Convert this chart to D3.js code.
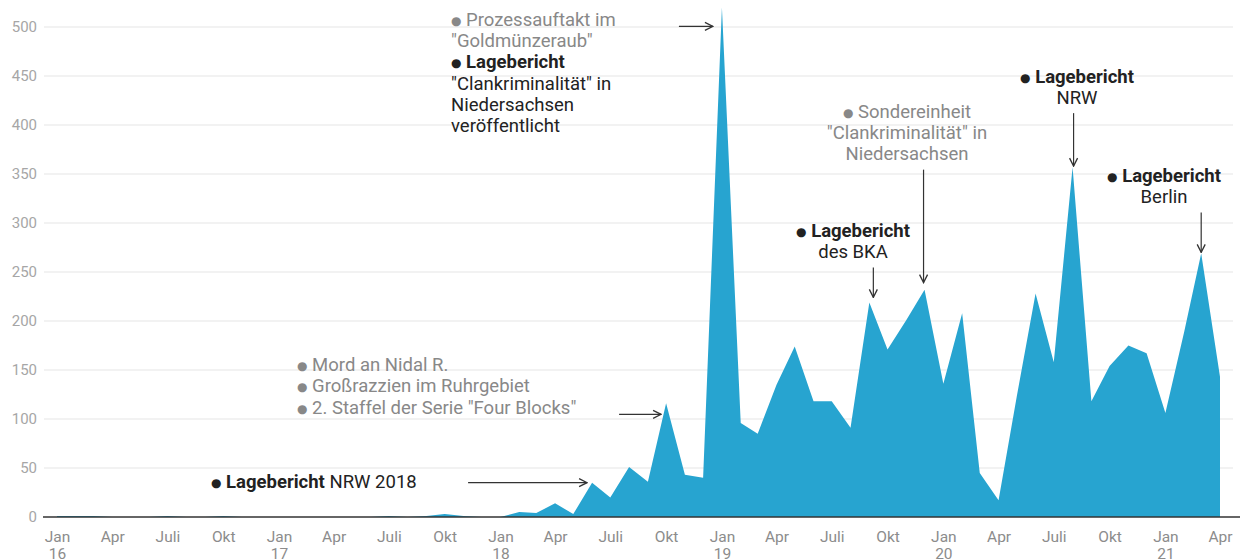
<!DOCTYPE html>
<html>
<head>
<meta charset="utf-8">
<script src="https://cdn.jsdelivr.net/npm/d3@7/dist/d3.min.js"></script>
<style>
  html, body { margin: 0; padding: 0; background: #fff; }
  svg { display: block; font-family: Roboto, "Noto Sans", sans-serif; }
</style>
</head>
<body>
<svg id="chart" width="1240" height="560"></svg>
<script>
// ---------- DATA ----------
const years = [2016, 2017, 2018, 2019, 2020, 2021];
const values2016 = [1, 1, 1, 0, 0, 0, 1, 0, 0, 1, 0, 0];
const values2017 = [0, 0, 0, 0, 0, 0, 1, 0, 1, 3, 1, 0];
const values2018 = [0, 5, 4, 14, 3, 35, 20, 51, 36, 116, 43, 40];
const values2019 = [520, 96, 85, 135, 174, 118, 118, 91, 219, 171, 201, 232];
const values2020 = [136, 208, 45, 17, 123, 228, 158, 357, 118, 154, 175, 167];
const values2021 = [106, 189, 269, 143];
const seriesByYear = [values2016, values2017, values2018, values2019, values2020, values2021];

const monthTickNames = ["Jan", "Apr", "Juli", "Okt"];   // ticks every 3 months
const yTicks = [0, 50, 100, 150, 200, 250, 300, 350, 400, 450, 500];

// annotations: lines of [text, bold?] segments; colour kind; anchor
const annotations = [
  { kind: "dark", anchor: "start", x: 211, y: 488, lines: [[["●", "b"], ["Lagebericht ", true], ["NRW 2018", false]]] },
  { kind: "grey", anchor: "start", x: 297, y: 371, lh: 21.3, lines: [
      [["●", "b"], ["Mord an Nidal R.", false]],
      [["●", "b"], ["Großrazzien im Ruhrgebiet", false]],
      [["●", "b"], ["2. Staffel der Serie \"Four Blocks\"", false]] ] },
  { kind: "grey", anchor: "start", x: 451, y: 26, lh: 21.2, lines: [
      [["●", "b"], ["Prozessauftakt im", false]],
      [["\"Goldmünzeraub\"", false]] ] },
  { kind: "dark", anchor: "start", x: 451, y: 68.4, lh: 21.2, lines: [
      [["●", "b"], ["Lagebericht", true]],
      [["\"Clankriminalität\" in", false]],
      [["Niedersachsen", false]],
      [["veröffentlicht", false]] ] },
  { kind: "dark", anchor: "middle", x: 853, y: 237, lh: 21, lines: [
      [["●", "b"], ["Lagebericht", true]],
      [["des BKA", false]] ] },
  { kind: "grey", anchor: "middle", x: 907, y: 118, lh: 21, lines: [
      [["●", "b"], ["Sondereinheit", false]],
      [["\"Clankriminalität\" in", false]],
      [["Niedersachsen", false]] ] },
  { kind: "dark", anchor: "middle", x: 1077, y: 83, lh: 21, lines: [
      [["●", "b"], ["Lagebericht", true]],
      [["NRW", false]] ] },
  { kind: "dark", anchor: "middle", x: 1164, y: 182, lh: 21, lines: [
      [["●", "b"], ["Lagebericht", true]],
      [["Berlin", false]] ] }
];

// arrows: target point (year, month index, value) + pixel start offset and gap at tip
const arrows = [
  { year: 2018, month: 5, value: 35,  dir: "h", len: 119, gap: 5, dy: 0 },
  { year: 2018, month: 9, value: 116, dir: "h", len: 42,  gap: 5, dy: 11 },
  { year: 2019, month: 0, value: 520, dir: "h", len: 34,  gap: 9, dy: 19 },
  { year: 2019, month: 8, value: 219, dir: "v", len: 30,  gap: 5, dx: 4 },
  { year: 2019, month: 11, value: 232, dir: "v", len: 113, gap: 7, dx: -1 },
  { year: 2020, month: 7, value: 357, dir: "v", len: 53,  gap: 1, dx: 1 },
  { year: 2021, month: 2, value: 269, dir: "v", len: 40,  gap: 1, dx: 0 }
];

// ---------- BUILD ----------
const data = [];
seriesByYear.forEach((vals, yi) => {
  vals.forEach((v, m) => data.push({ date: new Date(years[yi], m, 1), value: v }));
});

const svg = d3.select("#chart");

const x = d3.scaleTime()
  .domain([data[0].date, data[data.length - 1].date])
  .range([57, 1220]);
const y = d3.scaleLinear().domain([0, 500]).range([517, 27]);

// gridlines
svg.append("g").selectAll("line").data(yTicks.filter(d => d > 0)).join("line")
  .attr("x1", 44).attr("x2", 1233)
  .attr("y1", d => y(d)).attr("y2", d => y(d))
  .attr("stroke", "#e5e5e5").attr("stroke-width", 1);

// y axis labels
const yAxis = d3.axisLeft(y).tickValues(yTicks).tickSize(0).tickPadding(0);
const yg = svg.append("g").attr("transform", "translate(37,0)").call(yAxis);
yg.select(".domain").remove();
yg.selectAll("text").attr("fill", "#a6a6a6").attr("font-size", 15).attr("font-family", "Roboto");

// area
const area = d3.area()
  .x(d => x(d.date))
  .y0(y(0))
  .y1(d => y(d.value));
svg.append("path").datum(data)
  .attr("d", area)
  .attr("fill", "#27a4d0");

// baseline
svg.append("line").attr("x1", 43).attr("x2", 1240)
  .attr("y1", y(0)).attr("y2", y(0))
  .attr("stroke", "#333").attr("stroke-width", 1.5);

// x axis
const tickDates = data.filter(d => d.date.getMonth() % 3 === 0).map(d => d.date);
const xAxis = d3.axisBottom(x).tickValues(tickDates).tickSize(0).tickPadding(0)
  .tickFormat(() => "");
const xg = svg.append("g").attr("transform", `translate(0,${y(0)})`).call(xAxis);
xg.select(".domain").remove();
xg.selectAll(".tick text").each(function(d) {
  const t = d3.select(this);
  t.text(null).attr("fill", "#8c8c8c").attr("font-size", 15.5).attr("font-family", "Roboto").attr("dy", null).attr("y", 0);
  t.append("tspan").attr("x", 0).attr("y", 25).text(monthTickNames[d.getMonth() / 3]);
  if (d.getMonth() === 0) {
    t.append("tspan").attr("x", 0).attr("y", 42).text(String(d.getFullYear()).slice(2));
  }
});

// arrows
const defs = svg.append("defs");
defs.append("marker").attr("id", "ah")
  .attr("viewBox", "0 0 10 10").attr("refX", 9).attr("refY", 5)
  .attr("markerWidth", 10).attr("markerHeight", 10)
  .attr("markerUnits", "userSpaceOnUse").attr("orient", "auto")
  .append("path").attr("d", "M1,1 L9,5 L1,9")
  .attr("fill", "none").attr("stroke", "#333").attr("stroke-width", 1.3);

const ag = svg.append("g");
arrows.forEach(a => {
  const px = x(new Date(a.year, a.month, 1)), py = y(a.value);
  let x1, y1, x2, y2;
  if (a.dir === "h") {
    x2 = px - a.gap; y2 = py + a.dy; x1 = x2 - a.len; y1 = y2;
  } else {
    x2 = px + a.dx; y2 = py - a.gap; x1 = x2; y1 = y2 - a.len;
  }
  ag.append("line").attr("x1", x1).attr("y1", y1).attr("x2", x2).attr("y2", y2)
    .attr("stroke", "#333").attr("stroke-width", 1.2).attr("marker-end", "url(#ah)");
});

// annotations
const colors = { dark: "#222", grey: "#888" };
const tg = svg.append("g").attr("font-size", 18.5);
annotations.forEach(an => {
  const lh = an.lh || 21;
  an.lines.forEach((segs, li) => {
    const t = tg.append("text")
      .attr("x", an.x).attr("y", an.y + li * lh)
      .attr("text-anchor", an.anchor)
      .attr("fill", colors[an.kind]);
    segs.forEach(s => {
      if (s[1] === "b") {
        t.append("tspan").attr("font-family", "DejaVu Sans").attr("font-size", 12).attr("dy", -1).text(s[0]);
        t.append("tspan").attr("font-size", 18.5).attr("dy", 1).text(" ");
      } else {
        t.append("tspan").attr("font-weight", s[1] ? 700 : 400).text(s[0]);
      }
    });
  });
});
</script>
</body>
</html>
